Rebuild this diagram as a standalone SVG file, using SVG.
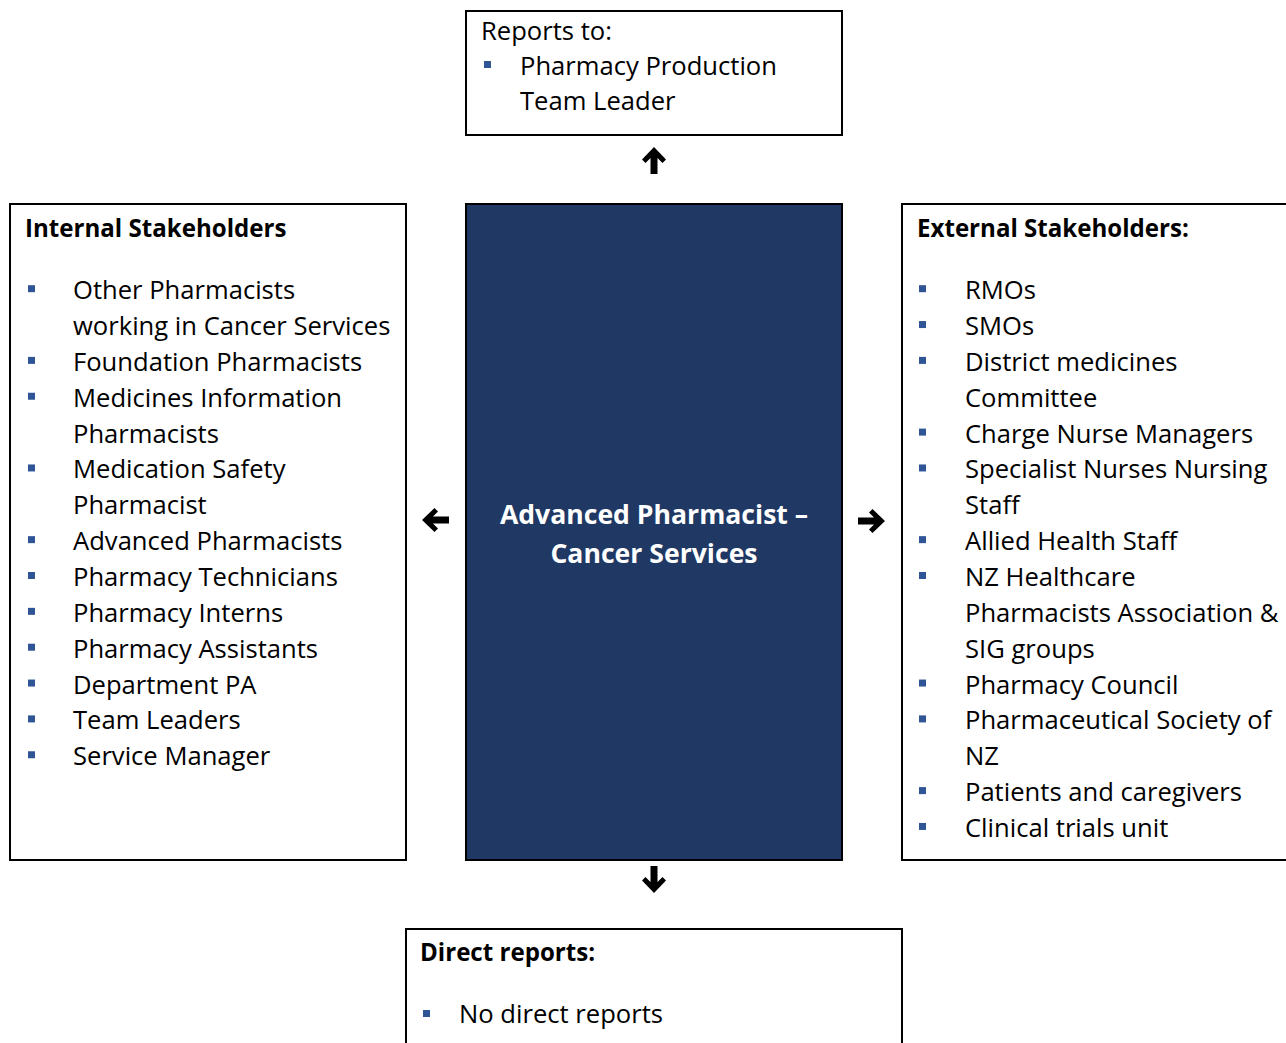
<svg xmlns="http://www.w3.org/2000/svg" width="1286" height="1043" viewBox="0 0 1286 1043">
<style>
  .box { fill: #ffffff; stroke: #000000; stroke-width: 2; }
  .core { fill: #1f3864; stroke: #000000; stroke-width: 2; }
  .t { font-family: "Open Sans", "Liberation Sans", sans-serif; font-size: 25.6px; fill: #000000; }
  .h { font-family: "Open Sans", "Liberation Sans", sans-serif; font-size: 24.1px; font-weight: bold; fill: #000000; }
  .title { font-family: "Open Sans", "Liberation Sans", sans-serif; font-size: 26.6px; font-weight: bold; fill: #ffffff; text-anchor: middle; }
  .b { fill: #2f5597; }
  .arr { fill: #000000; }
</style>
<defs>
  <rect id="bul" class="b" width="7" height="7"/>
  <polygon id="arrUp" class="arr" points="0,0 12,12.5 8.5,16 3.5,11 3.5,27 -3.5,27 -3.5,11 -8.5,16 -12,12.5"/>
</defs>

<g id="reports-to">
  <rect class="box" x="466" y="11" width="376" height="124"/>
  <text class="t" x="481" y="39.5">Reports to:</text>
  <use href="#bul" x="484" y="61"/>
  <text class="t" x="520" y="74.5">Pharmacy Production</text>
  <text class="t" x="520" y="109.5">Team Leader</text>
</g>

<g id="internal-stakeholders">
  <rect class="box" x="10" y="204" width="396" height="656"/>
  <text class="h" x="25" y="236.5">Internal Stakeholders</text>
  <g transform="translate(0,-0.8)">
  <use href="#bul" x="28" y="286"/>
  <text class="t" x="73" y="300">Other Pharmacists</text>
  <text class="t" x="73" y="335.85">working in Cancer Services</text>
  <use href="#bul" x="28" y="357.7"/>
  <text class="t" x="73" y="371.7">Foundation Pharmacists</text>
  <use href="#bul" x="28" y="393.55"/>
  <text class="t" x="73" y="407.55">Medicines Information</text>
  <text class="t" x="73" y="443.4">Pharmacists</text>
  <use href="#bul" x="28" y="465.25"/>
  <text class="t" x="73" y="479.25">Medication Safety</text>
  <text class="t" x="73" y="515.1">Pharmacist</text>
  <use href="#bul" x="28" y="536.95"/>
  <text class="t" x="73" y="550.95">Advanced Pharmacists</text>
  <use href="#bul" x="28" y="572.8"/>
  <text class="t" x="73" y="586.8">Pharmacy Technicians</text>
  <use href="#bul" x="28" y="608.65"/>
  <text class="t" x="73" y="622.65">Pharmacy Interns</text>
  <use href="#bul" x="28" y="644.5"/>
  <text class="t" x="73" y="658.5">Pharmacy Assistants</text>
  <use href="#bul" x="28" y="680.35"/>
  <text class="t" x="73" y="694.35">Department PA</text>
  <use href="#bul" x="28" y="716.2"/>
  <text class="t" x="73" y="730.2">Team Leaders</text>
  <use href="#bul" x="28" y="752.05"/>
  <text class="t" x="73" y="766.05">Service Manager</text>
  </g>
</g>

<g id="role">
  <rect class="core" x="466" y="204" width="376" height="656"/>
  <text class="title" x="654" y="523.5">Advanced Pharmacist –</text>
  <text class="title" x="654" y="563">Cancer Services</text>
</g>

<g id="external-stakeholders">
  <rect class="box" x="902" y="204" width="500" height="656"/>
  <text class="h" x="917" y="236.5">External Stakeholders:</text>
  <g transform="translate(0,-0.8)">
  <use href="#bul" x="919" y="286"/>
  <text class="t" x="965" y="300">RMOs</text>
  <use href="#bul" x="919" y="321.85"/>
  <text class="t" x="965" y="335.85">SMOs</text>
  <use href="#bul" x="919" y="357.7"/>
  <text class="t" x="965" y="371.7">District medicines</text>
  <text class="t" x="965" y="407.55">Committee</text>
  <use href="#bul" x="919" y="429.4"/>
  <text class="t" x="965" y="443.4">Charge Nurse Managers</text>
  <use href="#bul" x="919" y="465.25"/>
  <text class="t" x="965" y="479.25">Specialist Nurses Nursing</text>
  <text class="t" x="965" y="515.1">Staff</text>
  <use href="#bul" x="919" y="536.95"/>
  <text class="t" x="965" y="550.95">Allied Health Staff</text>
  <use href="#bul" x="919" y="572.8"/>
  <text class="t" x="965" y="586.8">NZ Healthcare</text>
  <text class="t" x="965" y="622.65">Pharmacists Association &amp;</text>
  <text class="t" x="965" y="658.5">SIG groups</text>
  <use href="#bul" x="919" y="680.35"/>
  <text class="t" x="965" y="694.35">Pharmacy Council</text>
  <use href="#bul" x="919" y="716.2"/>
  <text class="t" x="965" y="730.2">Pharmaceutical Society of</text>
  <text class="t" x="965" y="766.05">NZ</text>
  <use href="#bul" x="919" y="787.9"/>
  <text class="t" x="965" y="801.9">Patients and caregivers</text>
  <use href="#bul" x="919" y="823.75"/>
  <text class="t" x="965" y="837.75">Clinical trials unit</text>
  </g>
</g>

<g id="direct-reports">
  <rect class="box" x="406" y="929" width="496" height="130"/>
  <text class="h" x="420" y="961">Direct reports:</text>
  <use href="#bul" x="423" y="1010"/>
  <text class="t" x="459" y="1023">No direct reports</text>
</g>

<g id="connectors">
  <use href="#arrUp" transform="translate(654,147)"/>
  <use href="#arrUp" transform="translate(654,893) rotate(180)"/>
  <use href="#arrUp" transform="translate(422,520) rotate(-90)"/>
  <use href="#arrUp" transform="translate(885,521) rotate(90)"/>
</g>
</svg>
